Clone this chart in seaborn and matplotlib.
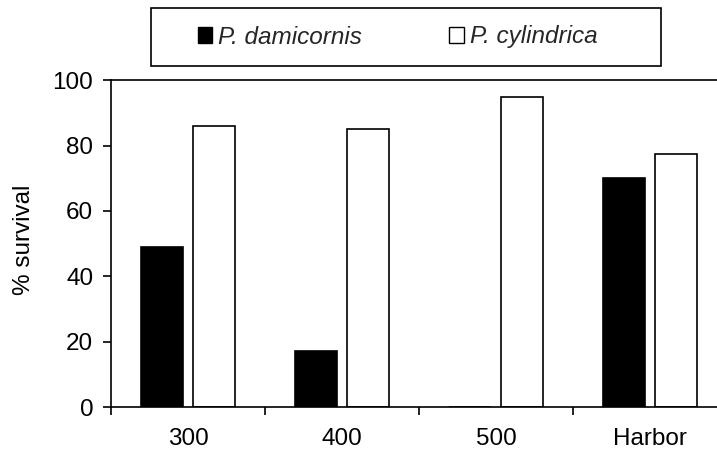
import matplotlib
matplotlib.use("Agg")
import matplotlib.pyplot as plt
import seaborn as sns
import pandas as pd
from matplotlib.patches import Rectangle

sites = ["300", "400", "500", "Harbor"]
species = ["P. damicornis", "P. cylindrica"]
damicornis = [49, 17, 0, 70]
cylindrica = [86, 85, 95, 77.5]

df = pd.DataFrame({
    "site": sites * 2,
    "species": [species[0]] * 4 + [species[1]] * 4,
    "survival": damicornis + cylindrica,
})

sns.set_theme(style="white")
plt.rcParams["font.family"] = ["Liberation Sans", "DejaVu Sans"]

FS = 17.5

fig = plt.figure(figsize=(7.17, 4.53), dpi=100)
ax = fig.add_axes([0.155, 0.1015, 0.859, 0.7215])

sns.barplot(data=df, x="site", y="survival", hue="species", order=sites,
            hue_order=species, palette=["black", "white"], edgecolor="black",
            linewidth=1.2, width=0.675, gap=0.185, ax=ax, errorbar=None,
            saturation=1)

handles, labels = ax.get_legend_handles_labels()
ax.get_legend().remove()

ax.set_xlim(-0.5, 3.5)
ax.set_ylim(0, 100)
ax.set_yticks([0, 20, 40, 60, 80, 100])
ax.set_xlabel("")
ax.set_ylabel("% survival", fontsize=FS, color="black")
ax.yaxis.set_label_coords(-0.123, 0.512)

for s in ax.spines.values():
    s.set_color("black")
    s.set_linewidth(1.2)

ax.tick_params(axis="y", which="major", direction="out", length=5.8, width=1.2,
               color="black", labelsize=FS, labelcolor="black", pad=7, left=True)
ax.set_xticks([-0.5, 0.5, 1.5, 2.5, 3.5], minor=True)
ax.tick_params(axis="x", which="minor", direction="out", length=6, width=1.2,
               color="black", bottom=True)
ax.tick_params(axis="x", which="major", length=0, labelsize=FS,
               labelcolor="black", pad=15)

# legend frame
fig.patches.append(Rectangle((151 / 717, 1 - 66 / 453), 510 / 717, 58 / 453,
                             transform=fig.transFigure, fill=False,
                             edgecolor="black", linewidth=1.2))
leg = fig.legend(handles, labels, loc="center",
                 bbox_to_anchor=(397.5 / 717, 1 - 37 / 453), ncol=2,
                 frameon=False, fontsize=FS, handlelength=0.6,
                 handleheight=0.6, handletextpad=0.24, columnspacing=3.6)
for t in leg.get_texts():
    t.set_fontstyle("italic")
for h in leg.legend_handles:
    h.set_edgecolor("black")
    h.set_linewidth(1.0)

fig.savefig("out.png", dpi=100)
